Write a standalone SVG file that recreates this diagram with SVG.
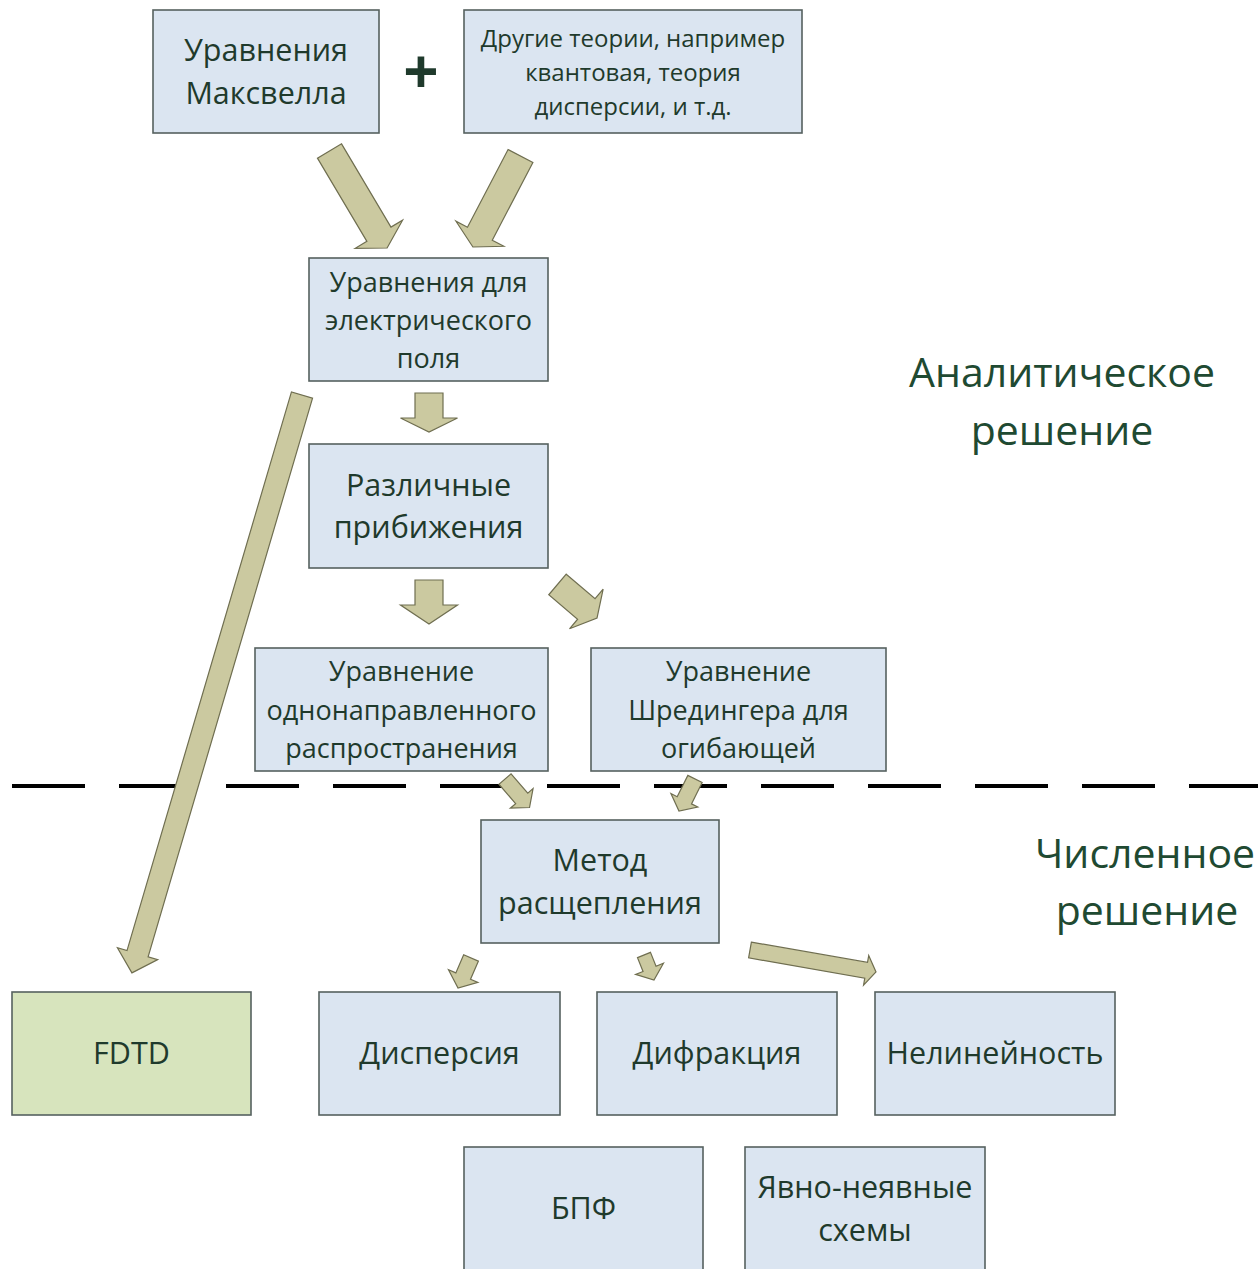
<svg xmlns="http://www.w3.org/2000/svg" width="1258" height="1269" viewBox="0 0 1258 1269">
<style>
.box{fill:#dbe5f1;stroke:#56615f;stroke-width:1.6}
.green{fill:#d7e4bd}
.t{font-family:"Open Sans","Noto Sans","DejaVu Sans",sans-serif;fill:#1f3a2c;text-anchor:middle}
.s28{font-size:30.5px}
.s24{font-size:27px}
.s22{font-size:24px}
.lab{font-family:"Open Sans","Noto Sans","DejaVu Sans",sans-serif;fill:#1f4a32;text-anchor:middle;font-size:41px}
.arr{fill:#cbc9a0;stroke:#6f6e50;stroke-width:1.2;stroke-linejoin:miter}
.sep{stroke:#000;stroke-width:4;stroke-dasharray:73 34;fill:none}
</style>
<rect width="1258" height="1269" fill="#fff"/>
<line class="sep" x1="12" y1="786" x2="1258" y2="786"/>
<g id="connectors">
<polygon class="arr" transform="translate(329.5,151) rotate(59.3)" points="0,-14 96.8,-14 96.8,-27.5 112.8,0 96.8,27.5 96.8,14 0,14"/>
<polygon class="arr" transform="translate(520.5,156) rotate(117.6)" points="0,-14 87.7,-14 87.7,-27 102.7,0 87.7,27 87.7,14 0,14"/>
<polygon class="arr" transform="translate(429,393) rotate(90)" points="0,-14 25,-14 25,-28.5 39,0 25,28.5 25,14 0,14"/>
<polygon class="arr" transform="translate(429,580) rotate(90)" points="0,-14 25,-14 25,-28.5 44,0 25,28.5 25,14 0,14"/>
<polygon class="arr" transform="translate(557.5,584.5) rotate(40.3)" points="0,-13.5 37.8,-13.5 37.8,-26 51.8,0 37.8,26 37.8,13.5 0,13.5"/>
<polygon class="arr" transform="translate(505,779) rotate(49.3)" points="0,-8 25.6,-8 25.6,-15 37.6,0 25.6,15 25.6,8 0,8"/>
<polygon class="arr" transform="translate(695,779) rotate(116.6)" points="0,-8 23.8,-8 23.8,-15 35.8,0 23.8,15 23.8,8 0,8"/>
<polygon class="arr" transform="translate(302,395) rotate(106.4)" points="0,-11 582.4,-11 582.4,-21 602.4,0 582.4,21 582.4,11 0,11"/>
<polygon class="arr" transform="translate(471,958) rotate(113.4)" points="0,-8 19.7,-8 19.7,-16 32.7,0 19.7,16 19.7,8 0,8"/>
<polygon class="arr" transform="translate(644,955) rotate(68.2)" points="0,-7 14.9,-7 14.9,-15 26.9,0 14.9,15 14.9,7 0,7"/>
<polygon class="arr" transform="translate(750,950) rotate(9.9)" points="0,-8 117.9,-8 117.9,-15 127.9,0 117.9,15 117.9,8 0,8"/>
</g>
<g id="maxwell">
<rect class="box" x="153" y="10" width="226" height="123"/>
<text class="t s28" x="266" y="61">Уравнения</text>
<text class="t s28" x="266" y="104">Максвелла</text>
</g>
<g id="plus">
<text class="t" x="421" y="94" style="font-size:62px;font-weight:bold">+</text>
</g>
<g id="other">
<rect class="box" x="464" y="10" width="338" height="123"/>
<text class="t s22" x="633" y="47">Другие теории, например</text>
<text class="t s22" x="633" y="81">квантовая, теория</text>
<text class="t s22" x="633" y="115">дисперсии, и т.д.</text>
</g>
<g id="efield">
<rect class="box" x="309" y="258" width="239" height="123"/>
<text class="t s24" x="428.5" y="292">Уравнения для</text>
<text class="t s24" x="428.5" y="330">электрического</text>
<text class="t s24" x="428.5" y="368">поля</text>
</g>
<g id="approx">
<rect class="box" x="309" y="444" width="239" height="124"/>
<text class="t s28" x="428.5" y="496">Различные</text>
<text class="t s28" x="428.5" y="538">прибижения</text>
</g>
<g id="unidir">
<rect class="box" x="255" y="648" width="293" height="123"/>
<text class="t s24" x="401.5" y="681">Уравнение</text>
<text class="t s24" x="401.5" y="720">однонаправленного</text>
<text class="t s24" x="401.5" y="758">распространения</text>
</g>
<g id="schrod">
<rect class="box" x="591" y="648" width="295" height="123"/>
<text class="t s24" x="738.5" y="681">Уравнение</text>
<text class="t s24" x="738.5" y="720">Шредингера для</text>
<text class="t s24" x="738.5" y="758">огибающей</text>
</g>
<g id="split">
<rect class="box" x="481" y="820" width="238" height="123"/>
<text class="t s28" x="600" y="871">Метод</text>
<text class="t s28" x="600" y="914">расщепления</text>
</g>
<g id="fdtd">
<rect class="box green" x="12" y="992" width="239" height="123"/>
<text class="t s28" x="131.5" y="1064">FDTD</text>
</g>
<g id="dispersion">
<rect class="box" x="319" y="992" width="241" height="123"/>
<text class="t s28" x="439.5" y="1064">Дисперсия</text>
</g>
<g id="diffraction">
<rect class="box" x="597" y="992" width="240" height="123"/>
<text class="t s28" x="717" y="1064">Дифракция</text>
</g>
<g id="nonlinear">
<rect class="box" x="875" y="992" width="240" height="123"/>
<text class="t s28" x="995" y="1064">Нелинейность</text>
</g>
<g id="fft">
<rect class="box" x="464" y="1147" width="239" height="130"/>
<text class="t s28" x="583.5" y="1219">БПФ</text>
</g>
<g id="schemes">
<rect class="box" x="745" y="1147" width="240" height="130"/>
<text class="t s28" x="865" y="1198">Явно-неявные</text>
<text class="t s28" x="865" y="1241">схемы</text>
</g>
<g id="labels">
<text class="lab" x="1062" y="387">Аналитическое</text>
<text class="lab" x="1062" y="445">решение</text>
<text class="lab" x="1145" y="868">Численное</text>
<text class="lab" x="1147" y="925">решение</text>
</g>
</svg>
